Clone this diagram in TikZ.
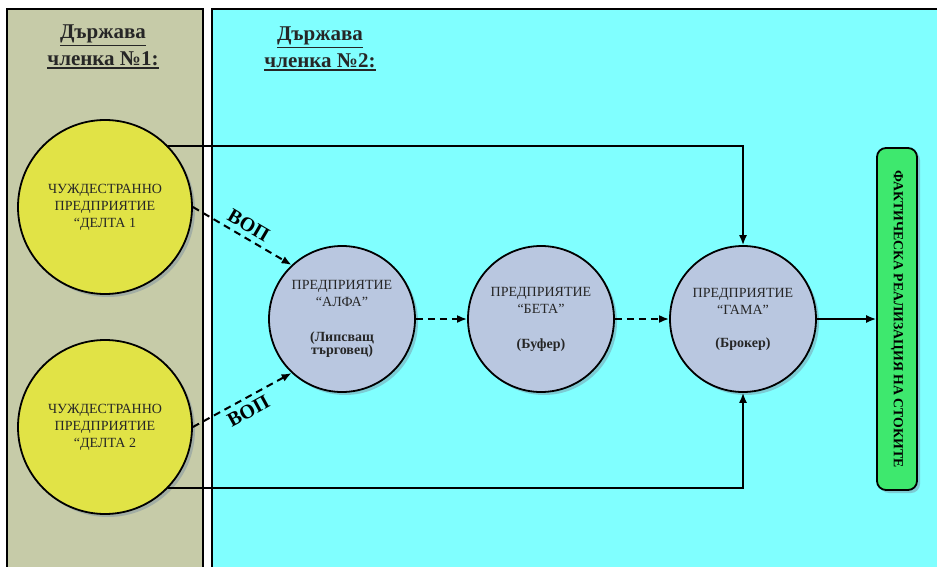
\documentclass[tikz,border=0pt]{standalone}
\usepackage{fontspec}
\setmainfont{Liberation Serif}
\newcommand\thickul[1]{\vtop{\hbox{#1}\kern1.5pt\hrule height 1.6pt}}
\usetikzlibrary{arrows.meta,shadows}
\definecolor{panelA}{RGB}{198,203,168}
\definecolor{panelB}{RGB}{128,255,255}
\definecolor{yellowc}{RGB}{225,227,70}
\definecolor{bluec}{RGB}{185,199,224}
\definecolor{greenc}{RGB}{62,232,110}
\definecolor{shadowc}{RGB}{120,140,160}
\begin{document}
\begin{tikzpicture}[x=1pt,y=-1pt,
  panel/.style={draw=black,line width=2pt},
  shad/.style={drop shadow={shadow xshift=3pt,shadow yshift=-3pt,fill=shadowc,opacity=0.45}},
  foreign/.style={circle,draw=black,line width=1.8pt,fill=yellowc,minimum size=174pt,inner sep=0pt,align=center,
     font=\fontsize{14}{17}\selectfont,text=black!85,shad},
  firm/.style={circle,draw=black,line width=1.8pt,fill=bluec,minimum size=146pt,inner sep=0pt,align=center,
     font=\fontsize{14}{17}\selectfont,text=black!85,shad},
  heading/.style={align=center,font=\bfseries\fontsize{21}{27}\selectfont,text=black!85},
  solidarrow/.style={line width=1.6pt,-{Latex[length=10pt,width=8pt]}},
  dasharrow/.style={line width=2pt,dash pattern=on 7pt off 5pt,-{Latex[length=10pt,width=8pt]}},
  voplabel/.style={font=\bfseries\fontsize{20}{22}\selectfont,sloped,inner sep=5pt}
]
\useasboundingbox (0,0) rectangle (937,567);
\clip (0,0) rectangle (937,567);
\fill[white] (0,0) rectangle (937,567);
\draw[panel,fill=panelA] (7,9) rectangle (203,590);
\draw[panel,fill=panelB] (212,9) rectangle (960,590);

\node[heading] (h1) at (103,47) {\thickul{Държава}\\\thickul{членка №1:}};
\node[heading] (h2) at (320,49) {\thickul{Държава}\\\thickul{членка №2:}};

\node[foreign] (d1) at (105,207) {ЧУЖДЕСТРАННО\\ПРЕДПРИЯТИЕ\\“ДЕЛТА 1};
\node[foreign] (d2) at (105,427) {ЧУЖДЕСТРАННО\\ПРЕДПРИЯТИЕ\\“ДЕЛТА 2};

\node[firm] (alfa) at (342,319) {ПРЕДПРИЯТИЕ\\“АЛФА”\\[18pt]\textbf{(Липсващ}\\[-4pt]\textbf{търговец)}};
\node[firm] (beta) at (541,319) {ПРЕДПРИЯТИЕ\\“БЕТА”\\[18pt]\textbf{(Буфер)}};
\node[firm] (gama) at (743,319) {ПРЕДПРИЯТИЕ\\“ГАМА”\\[16pt]\textbf{(Брокер)}};

\node[rounded corners=9pt,draw=black,line width=1.8pt,fill=greenc,rotate=-90,minimum width=342pt,minimum height=40pt,
  inner sep=0pt,font=\bfseries\fontsize{13.8}{15}\selectfont,shad] (fb) at (897,319) {ФАКТИЧЕСКА РЕАЛИЗАЦИЯ НА СТОКИТЕ};

\draw[solidarrow] (d1.44.5) -| (gama.north);
\draw[solidarrow] (d2.-44.5) -| (gama.south);
\draw[solidarrow] (gama.east) -- (fb.south);

\draw[dasharrow] (d1.east) -- node[voplabel,above] {ВОП} (alfa.133);
\draw[dasharrow] (d2.east) -- node[voplabel,below] {ВОП} (alfa.227);
\draw[dasharrow] (alfa.east) -- (beta.west);
\draw[dasharrow] (beta.east) -- (gama.west);
\end{tikzpicture}
\end{document}
